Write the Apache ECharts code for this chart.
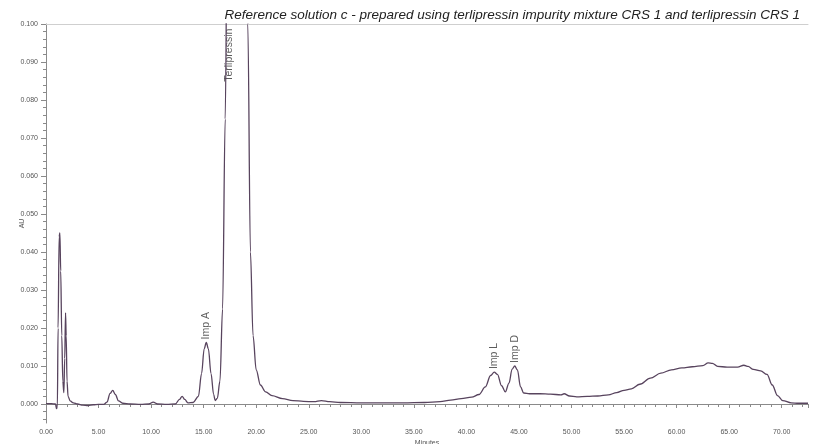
<!DOCTYPE html>
<html>
<head>
<meta charset="utf-8">
<script src="https://cdn.jsdelivr.net/npm/echarts@6/dist/echarts.min.js"></script>
<style>html,body{margin:0;padding:0;background:#fff}#c{width:817px;height:444px}</style>
</head>
<body>
<div id="c"></div>
<script>
// Chromatogram trace: time (minutes) and absorbance (AU)
var minutes = [0.0,0.5,0.9,1.0,1.08,1.15,1.25,1.32,1.4,1.5,1.6,1.7,1.78,1.86,1.92,2.0,2.1,2.3,2.6,3.0,3.5,4.0,4.5,5.0,5.5,5.8,6.1,6.35,6.6,6.9,7.3,8.0,9.0,9.8,10.2,10.6,11.5,12.3,12.7,12.95,13.2,13.5,14.0,14.5,14.8,15.05,15.25,15.45,15.7,15.95,16.1,16.3,16.55,16.8,17.05,17.25,17.5,18.0,18.5,18.9,19.2,19.45,19.7,20.0,20.4,20.9,21.5,22.5,23.5,24.5,25.5,26.2,27.0,28,30,32,34,36,37.5,38.5,39.5,40.5,41.2,41.8,42.3,42.65,42.95,43.35,43.7,44.05,44.35,44.6,44.85,45.15,45.45,46,47,48,49,49.3,49.8,50.5,51.5,52.5,53.5,54.3,55.0,55.7,56.5,57.5,58.5,59.5,60.5,61.5,62.5,63.0,63.4,63.9,64.8,65.8,66.4,66.8,67.3,68.0,68.6,69.1,69.6,70.1,70.9,71.6,72.5];
var au = [0.0001,0.0001,0.0000,-0.0012,-0.0008,0.020,0.044,0.045,0.035,0.018,0.006,0.003,0.012,0.024,0.018,0.006,0.002,0.0008,0.0003,0.0000,-0.0003,-0.0004,-0.0002,-0.0001,-0.0001,0.0005,0.0028,0.0036,0.0025,0.0008,0.0002,0.0000,-0.0001,0.0000,0.0005,0.0000,-0.0001,0.0000,0.0012,0.0020,0.0012,0.0003,0.0004,0.002,0.008,0.0145,0.0162,0.0145,0.008,0.0025,0.0009,0.0015,0.006,0.025,0.075,0.13,0.30,0.55,0.45,0.22,0.10,0.04,0.018,0.009,0.005,0.0032,0.0022,0.0014,0.0009,0.0007,0.0006,0.0009,0.0006,0.0004,0.0003,0.0003,0.0003,0.0004,0.0006,0.0010,0.0014,0.0018,0.0025,0.0045,0.0075,0.0084,0.0078,0.0048,0.0032,0.0055,0.0092,0.0100,0.0090,0.0045,0.0029,0.0027,0.0027,0.0026,0.0024,0.0027,0.0021,0.0019,0.0020,0.0021,0.0024,0.0030,0.0036,0.0040,0.0052,0.0068,0.0081,0.0090,0.0095,0.0098,0.0101,0.0108,0.0107,0.0099,0.0097,0.0097,0.0102,0.0099,0.0091,0.0087,0.0078,0.0050,0.0022,0.0009,0.0003,0.0002,0.0002];
// Peak annotations
var peakNames = ['Imp A','Terlipressin','Imp L','Imp D'];
var peakTimes = [15.25,17.45,42.65,44.6];
var peakLabelAU = [0.0162,0.084,0.0084,0.0100];
// Tick labels
var yLabelValues = [0,0.01,0.02,0.03,0.04,0.05,0.06,0.07,0.08,0.09,0.10];
var yMinorValues = [-0.004,-0.002,0,0.002,0.004,0.006,0.008,0.01,0.012,0.014,0.016,0.018,0.02,0.022,0.024,0.026,0.028,0.03,0.032,0.034,0.036,0.038,0.04,0.042,0.044,0.046,0.048,0.05,0.052,0.054,0.056,0.058,0.06,0.062,0.064,0.066,0.068,0.07,0.072,0.074,0.076,0.078,0.08,0.082,0.084,0.086,0.088,0.09,0.092,0.094,0.096,0.098,0.10];

var trace = minutes.map(function(t,i){return [t, au[i]];});
var peaks = peakNames.map(function(n,i){return [peakTimes[i], peakLabelAU[i], n];});

var axisCol = '#8a8a8a';
var labCol = '#555';
var chart = echarts.init(document.getElementById('c'), null, {renderer:'canvas'});
chart.setOption({
  animation:false,
  backgroundColor:'#fff',
  title:{
    text:'Reference solution c - prepared using terlipressin impurity mixture CRS 1 and terlipressin CRS 1',
    right:12, top:3,
    textStyle:{fontFamily:'Liberation Sans', fontStyle:'italic', fontWeight:'normal', fontSize:13.5, color:'#222'}
  },
  grid:{left:46, right:9, top:24, bottom:21, containLabel:false, outerBoundsMode:'none'},
  xAxis:[{
    type:'value', min:0, max:72.5, interval:5,
    name:'Minutes', nameLocation:'middle', nameGap:17, nameMoveOverlap:false,
    nameTextStyle:{fontFamily:'Liberation Sans', fontSize:7, color:labCol},
    axisLine:{show:true, lineStyle:{color:axisCol, width:1}},
    axisTick:{show:true, length:4, lineStyle:{color:axisCol}},
    minorTick:{show:true, splitNumber:5, length:3, lineStyle:{color:axisCol}},
    axisLabel:{fontFamily:'Liberation Sans', fontSize:7, color:labCol, margin:6, showMaxLabel:false,
      formatter:function(v){ return (Math.abs(v/5-Math.round(v/5))<1e-6) ? v.toFixed(2) : ''; }},
    splitLine:{show:false}
  },{
    type:'value', position:'top', min:0, max:72.5,
    axisLine:{show:true, onZero:false, lineStyle:{color:'#cfcfcf', width:1}},
    axisTick:{show:false}, axisLabel:{show:false}, splitLine:{show:false}
  }],
  yAxis:[{
    type:'value', min:-0.005, max:0.1, position:'left',
    name:'AU', nameLocation:'middle', nameGap:20, nameRotate:90, nameMoveOverlap:false,
    nameTextStyle:{fontFamily:'Liberation Sans', fontSize:7, color:labCol},
    axisLine:{show:true, lineStyle:{color:axisCol, width:1}},
    axisTick:{show:true, length:5, customValues:yLabelValues, lineStyle:{color:axisCol}},
    axisLabel:{fontFamily:'Liberation Sans', fontSize:7, color:labCol, margin:8, customValues:yLabelValues,
      formatter:function(v){ return v.toFixed(3); }},
    splitLine:{show:false}
  },{
    type:'value', min:-0.005, max:0.1, position:'left', offset:0,
    axisLine:{show:false},
    axisTick:{show:true, length:3, customValues:yMinorValues, lineStyle:{color:axisCol}},
    axisLabel:{show:false}, splitLine:{show:false}
  }],
  series:[{
    type:'line', data:trace, xAxisIndex:0, yAxisIndex:0,
    showSymbol:false, smooth:0.35, smoothMonotone:'x', clip:true,
    lineStyle:{color:'#58445e', width:1.3}
  },{
    type:'scatter', data:peaks, xAxisIndex:0, yAxisIndex:0, symbolSize:0,
    label:{show:true, position:'top', distance:3, rotate:90, align:'left', verticalAlign:'middle',
      fontFamily:'Liberation Sans', fontSize:10.5, color:'#333',
      formatter:function(p){return p.data[2];}}
  }]
});
</script>
</body>
</html>
